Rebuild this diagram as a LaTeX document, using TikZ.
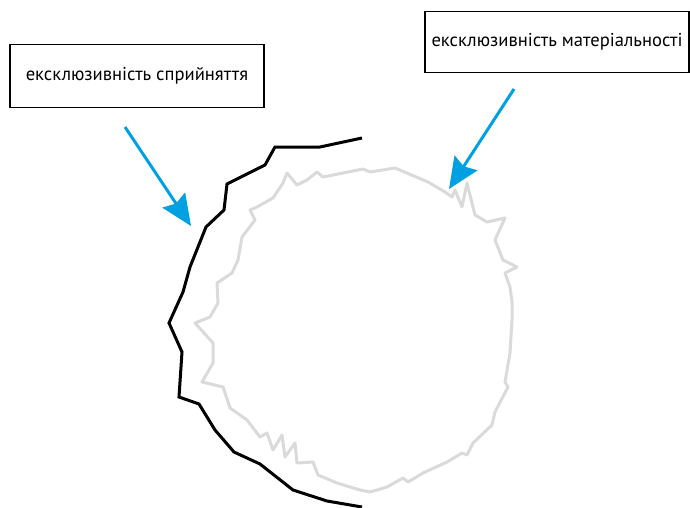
\documentclass[tikz,border=0pt]{standalone}
\usepackage{fontspec}
\setmainfont{PT Sans}
\usetikzlibrary{arrows.meta,positioning}

\definecolor{pointerblue}{RGB}{0,160,227}
\definecolor{hazegray}{RGB}{218,218,218}

\tikzset{
  labelbox/.style={draw, line width=1.3pt, minimum width=254pt, minimum height=63pt,
    inner sep=0pt, font=\fontsize{18.6}{22}\selectfont},
  pointer/.style={pointerblue, line width=3pt, -{Stealth[length=31pt,width=27pt,inset=4pt]}},
  edgeline/.style={line width=3pt, line join=miter},
  haze/.style={hazegray, line width=3pt, line join=round}
}

\begin{document}
\begin{tikzpicture}[x=1pt,y=-1pt]
  \useasboundingbox (0,0) rectangle (690,508);

  % boxes
  \node[labelbox] (percbox) at (137,76) {ексклюзивність сприйняття};
  \node[labelbox, minimum width=264pt, minimum height=61pt] (matbox) at (557,42) {ексклюзивність матеріальності};

  % arrow ends
  \coordinate (perctail) at (125,127);
  \coordinate (perctip) at (191,226);
  \coordinate (mattail) at (514,89);
  \coordinate (mattip) at (449,189);

  % perception edge
  \draw[edgeline] plot coordinates {(362,138) (320,147) (275,147) (265,165) (227,184)
    (224,210) (206,227) (190,267) (183,292) (169,323) (182,352) (179,397) (199,404)
    (215,430) (234,452) (260,464) (293,490) (327,501) (362,507)};

  % matter outline
  \draw[haze] plot coordinates {(370,172) (395,168) (428,182) (445,192) (452,197) (455,190)
    (462,207) (467,183) (475,215) (487,222) (505,218) (495,240) (503,260) (517,267)
    (505,273) (510,287) (512,302) (512,320) (510,353) (505,382) (508,387) (495,412) (492,425)
    (473,443) (467,455) (462,453) (447,462) (423,473) (408,482) (403,478) (387,487)
    (370,492) (360,490) (337,483) (318,475) (313,462) (297,463) (295,443) (285,457)
    (282,435) (273,450) (267,433) (260,437) (247,420) (230,408) (223,387) (202,382)
    (213,363) (213,343) (195,323) (210,317) (218,303) (217,283) (232,273) (238,260)
    (242,237) (255,220) (250,210) (257,207) (273,198) (283,183) (287,173) (297,185)
    (307,180) (317,172) (323,177) (363,169)} -- cycle;

  % pointers
  \draw[pointer] (perctail) -- (perctip);
  \draw[pointer] (mattail) -- (mattip);
\end{tikzpicture}
\end{document}
